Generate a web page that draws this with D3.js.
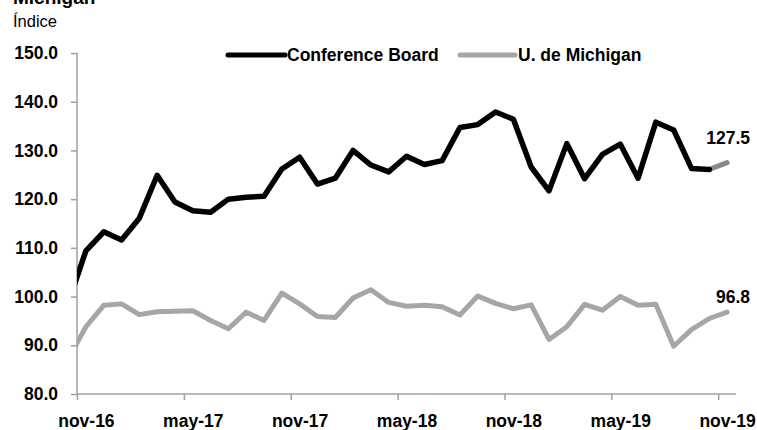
<!DOCTYPE html>
<html>
<head>
<meta charset="utf-8">
<script src="https://cdn.jsdelivr.net/npm/d3@7"></script>
<style>
    body { margin: 0; background: #fff; }
    svg text { font-family: "Liberation Sans", Arial, sans-serif; fill: #000; }
    .bold { font-weight: bold; }
</style>
</head>
<body>
<svg id="chart" width="757" height="430"></svg>
<script>

// Monthly categories (oct-16 is only partly visible, clipped at the axis)
const months = ["oct-16", "nov-16", "dic-16", "ene-17", "feb-17", "mar-17", "abr-17", "may-17", "jun-17", "jul-17",
    "ago-17", "sep-17", "oct-17", "nov-17", "dic-17", "ene-18", "feb-18", "mar-18", "abr-18", "may-18",
    "jun-18", "jul-18", "ago-18", "sep-18", "oct-18", "nov-18", "dic-18", "ene-19", "feb-19", "mar-19",
    "abr-19", "may-19", "jun-19", "jul-19", "ago-19", "sep-19", "oct-19", "nov-19"];

const conferenceBoard = [98.6, 109.4, 113.3, 111.6, 116.1, 124.9, 119.4, 117.6, 117.3, 120.0,
    120.4, 120.6, 126.2, 128.6, 123.1, 124.3, 130.0, 127.0, 125.6, 128.8,
    127.1, 127.9, 134.7, 135.3, 137.9, 136.4, 126.6, 121.7, 131.4, 124.2,
    129.2, 131.3, 124.3, 135.8, 134.2, 126.3, 126.1, 127.5];

const michigan = [87.2, 93.8, 98.2, 98.5, 96.3, 96.9, 97.0, 97.1, 95.1, 93.4,
    96.8, 95.1, 100.7, 98.5, 95.9, 95.7, 99.7, 101.4, 98.8, 98.0,
    98.2, 97.9, 96.2, 100.1, 98.6, 97.5, 98.3, 91.2, 93.8, 98.4,
    97.2, 100.0, 98.2, 98.4, 89.8, 93.2, 95.5, 96.8];

const tickLabels = ["nov-16", "may-17", "nov-17", "may-18", "nov-18", "may-19", "nov-19"];
const yTicks = [80, 90, 100, 110, 120, 130, 140, 150];

const seriesNames = ["Conference Board", "U. de Michigan"];

// Plot area
const plotLeft = 77, plotRight = 736, plotTop = 53, plotBottom = 394;

const svg = d3.select("#chart");

// Scales: category i is centred between its two boundary ticks
const x = d3.scaleLinear()
    .domain([0.5, months.length - 0.5])
    .range([plotLeft, plotRight]);
const y = d3.scaleLinear()
    .domain([80, 150])
    .range([plotBottom, plotTop]);

// Clip lines to the plot area
svg.append("clipPath")
    .attr("id", "plot_clip")
    .append("rect")
    .attr("x", plotLeft)
    .attr("y", 0)
    .attr("width", plotRight - plotLeft + 20)
    .attr("height", plotBottom);

// Title (cut off at the top) and unit
svg.append("text")
    .classed("bold", true)
    .attr("x", 13)
    .attr("y", 4)
    .style("font-size", "19px")
    .text("Michigan");
svg.append("text")
    .attr("x", 13)
    .attr("y", 27)
    .style("font-size", "16.5px")
    .text("Índice");

// Y axis
const yAxis = svg.append("g")
    .attr("transform", `translate(${plotLeft},0)`)
    .call(d3.axisLeft(y)
        .tickValues(yTicks)
        .tickSize(6)
        .tickPadding(13)
        .tickFormat(d3.format(".1f")));

// X axis: ticks on category boundaries, labels on category centres
const tickIdx = tickLabels.map((t) => months.indexOf(t));
const xAxis = svg.append("g")
    .attr("transform", `translate(0,${plotBottom})`)
    .call(d3.axisBottom(x)
        .tickValues(tickIdx.map((i) => i - 0.5))
        .tickSize(6)
        .tickFormat(""));
svg.append("g")
    .attr("transform", `translate(0,${plotBottom})`)
    .call(d3.axisBottom(x)
        .tickValues(tickIdx)
        .tickSize(0)
        .tickPadding(21)
        .tickFormat((d) => months[d]))
    .call((g) => g.select(".domain").remove());

// Style axes
svg.selectAll(".domain, .tick line")
    .attr("stroke", "#a0a0a0")
    .attr("stroke-width", 1.5);
xAxis.select(".domain").attr("d", `M${plotLeft},0H${plotRight}`);
yAxis.select(".domain").attr("d", `M0,${plotTop}V${plotBottom}`);
svg.selectAll(".tick text")
    .classed("bold", true)
    .style("font-size", "17.5px")
    .attr("fill", "#000");

// Lines
const line = d3.line()
    .x((d, i) => x(i))
    .y((d) => y(d));
const lines = svg.append("g").attr("clip-path", "url(#plot_clip)");

lines.append("path")
    .attr("d", line(michigan))
    .attr("fill", "none")
    .attr("stroke", "#a6a6a6")
    .attr("stroke-width", 5)
    .attr("stroke-linejoin", "round")
    .attr("stroke-linecap", "round");

// Conference Board: last month drawn in grey
const n = conferenceBoard.length;
lines.append("path")
    .attr("d", d3.line().x((d) => x(d)).y((d) => y(conferenceBoard[d]))([n - 2, n - 1]))
    .attr("fill", "none")
    .attr("stroke", "#888888")
    .attr("stroke-width", 5)
    .attr("stroke-linecap", "round");
lines.append("path")
    .attr("d", line.defined((d, i) => i < n - 1)(conferenceBoard))
    .attr("fill", "none")
    .attr("stroke", "#000")
    .attr("stroke-width", 5.5)
    .attr("stroke-linejoin", "round")
    .attr("stroke-linecap", "round");

// End labels
const lastLabels = [
    { value: conferenceBoard[n - 1], dy: -19 },
    { value: michigan[michigan.length - 1], dy: -9 }
];
svg.selectAll(".end_label")
    .data(lastLabels)
    .enter()
    .append("text")
    .classed("bold", true)
    .attr("x", x(n - 1) + 23)
    .attr("y", (d) => y(d.value) + d.dy)
    .style("font-size", "17.5px")
    .style("text-anchor", "end")
    .text((d) => d3.format(".1f")(d.value));

// Legend
const legend = [
    { name: seriesNames[0], colour: "#000", x1: 228, x2: 285, tx: 287 },
    { name: seriesNames[1], colour: "#a6a6a6", x1: 460, x2: 515, tx: 518 }
];
legend.forEach((d) => {
    svg.append("line")
        .attr("x1", d.x1).attr("x2", d.x2)
        .attr("y1", 55).attr("y2", 55)
        .attr("stroke", d.colour)
        .attr("stroke-width", 5)
        .attr("stroke-linecap", "round");
    svg.append("text")
        .classed("bold", true)
        .attr("x", d.tx)
        .attr("y", 61)
        .style("font-size", "17.5px")
        .text(d.name);
});

</script>
</body>
</html>
